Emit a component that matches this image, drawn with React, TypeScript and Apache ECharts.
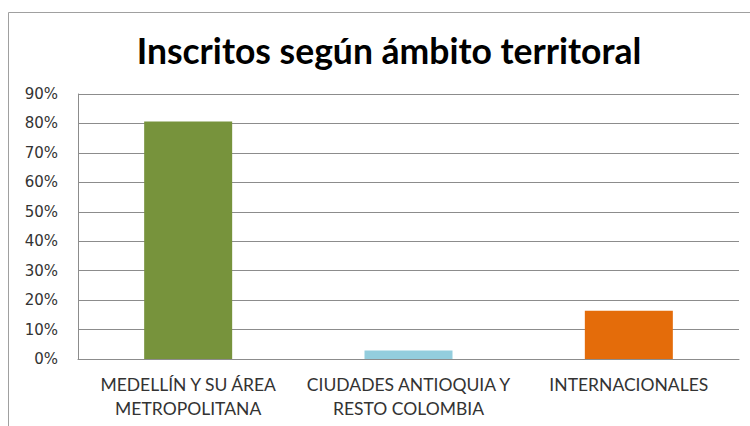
import React, { useEffect, useRef } from "react";
import * as echarts from "echarts";

const categories = ["MEDELLÍN Y SU ÁREA\nMETROPOLITANA", "CIUDADES ANTIOQUIA Y\nRESTO COLOMBIA", "INTERNACIONALES"];
const values = [80.7, 2.9, 16.4];
const colors = ["#77933C", "#93CDDD", "#E46C0A"];
const titleText = "Inscritos según ámbito territoral";

export default function App() {
  const ref = useRef<HTMLDivElement>(null);
  useEffect(() => {
    document.body.style.margin = "0";
    const chart = echarts.init(ref.current!, undefined, { renderer: "svg" });
    chart.setOption({
      animation: false,
      backgroundColor: "#fff",
      title: {
        text: titleText,
        left: 384,
        textAlign: "center",
        top: 27,
        textStyle: { fontFamily: "Lato", fontWeight: "bold", fontSize: 35.5, color: "#000" },
      },
      graphic: [
        {
          type: "rect",
          shape: { x: 8.5, y: 12.5, width: 800, height: 500 },
          style: { fill: "none", stroke: "#a0a0a0", lineWidth: 1 },
          silent: true,
        },
      ],
      grid: { left: 78, right: 11, top: 94, bottom: 67 },
      xAxis: {
        type: "category",
        data: categories,
        axisLine: { lineStyle: { color: "#8c8c8c" } },
        axisTick: { show: false },
        axisLabel: {
          interval: 0,
          fontFamily: "Lato",
          fontSize: 17.5,
          color: "#333",
          lineHeight: 24,
          margin: 13,
        },
      },
      yAxis: {
        type: "value",
        min: 0,
        max: 90,
        interval: 10,
        axisLine: { show: true, lineStyle: { color: "#8c8c8c" } },
        axisTick: { show: false },
        splitLine: { lineStyle: { color: "#8c8c8c" } },
        axisLabel: {
          formatter: "{value}%",
          fontFamily: "DejaVu Sans",
          fontSize: 15,
          color: "#333",
          margin: 20,
        },
      },
      series: [
        {
          type: "bar",
          data: values.map((v, i) => ({ value: v, itemStyle: { color: colors[i] } })),
          barWidth: 88,
        },
      ],
    });
    return () => chart.dispose();
  }, []);
  return <div ref={ref} style={{ width: 750, height: 426 }} />;
}
